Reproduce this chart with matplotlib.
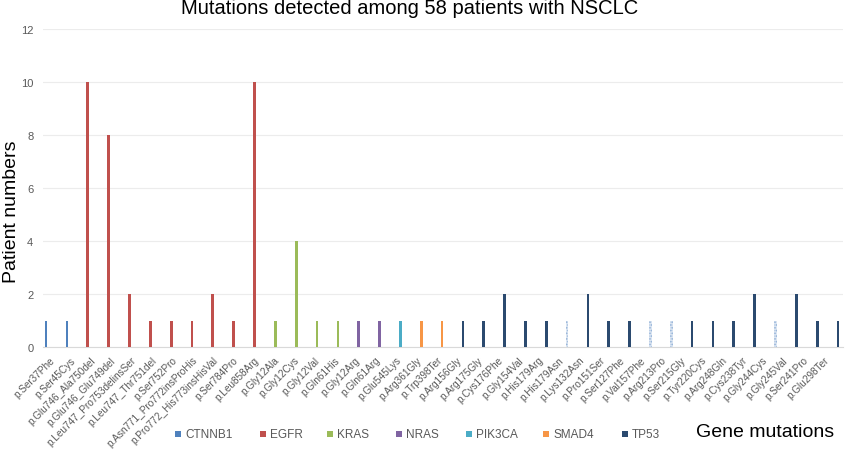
import matplotlib
matplotlib.use("Agg")
import matplotlib.pyplot as plt
from matplotlib.patches import Rectangle
from matplotlib.transforms import ScaledTranslation

plt.rcParams['font.family'] = ['Liberation Sans', 'DejaVu Sans']
plt.rcParams['hatch.linewidth'] = 0.8

mutations = ["p.Ser37Phe", "p.Ser45Cys", "p.Glu746_Ala750del", "p.Glu746_Glu749del",
             "p.Leu747_Pro753delinsSer", "p.Leu747_Thr751del", "p.Ser752Pro",
             "p.Asn771_Pro772insProHis", "p.Pro772_His773insHisVal", "p.Ser784Pro",
             "p.Leu858Arg", "p.Gly12Ala", "p.Gly12Cys", "p.Gly12Val", "p.Gln61His",
             "p.Gly12Arg", "p.Gln61Arg", "p.Glu545Lys", "p.Arg361Gly", "p.Trp398Ter",
             "p.Arg156Gly", "p.Arg175Gly", "p.Cys176Phe", "p.Gly154Val", "p.His179Arg",
             "p.His179Asn", "p.Lys132Asn", "p.Pro151Ser", "p.Ser127Phe", "p.Val157Phe",
             "p.Arg213Pro", "p.Ser215Gly", "p.Tyr220Cys", "p.Arg248Gln", "p.Cys238Tyr",
             "p.Gly244Cys", "p.Gly245Val", "p.Ser241Pro", "p.Glu298Ter"]
patients = [1, 1, 10, 8, 2, 1, 1, 1, 2, 1, 10, 1, 4, 1, 1, 1, 1, 1, 1, 1,
            1, 1, 2, 1, 1, 1, 2, 1, 1, 1, 1, 1, 1, 1, 2, 1, 2, 1, 1]
genes = ["CTNNB1"] * 2 + ["EGFR"] * 9 + ["KRAS"] * 4 + ["NRAS"] * 2 + ["PIK3CA"] + \
        ["SMAD4"] * 2 + ["TP53"] * 19
patterned = ["p.His179Asn", "p.Val157Phe", "p.Arg213Pro", "p.Gly244Cys"]

gene_order = ["CTNNB1", "EGFR", "KRAS", "NRAS", "PIK3CA", "SMAD4", "TP53"]
gene_colors = {"CTNNB1": "#4f81bd", "EGFR": "#c0504d", "KRAS": "#9bbb59",
               "NRAS": "#8064a2", "PIK3CA": "#4bacc6", "SMAD4": "#f79646",
               "TP53": "#2b4a6f"}

W, H = 846, 452
fig = plt.figure(figsize=(W / 100, H / 100), dpi=100)
ax = fig.add_axes([43 / W, 1 - 348 / H, 800 / W, 318 / H])

x = list(range(len(mutations)))
for xi, m, v, g in zip(x, mutations, patients, genes):
    if m in patterned:
        ax.bar(xi, v, width=0.13, facecolor="#dce6f2", edgecolor="#8eaed6",
               hatch="......", linewidth=0, zorder=3)
    else:
        ax.bar(xi, v, width=0.13, color=gene_colors[g], zorder=3)

ax.set_ylim(0, 12)
ax.set_yticks(range(0, 13, 2))
ax.set_xlim(-0.15, 38.24)
ax.yaxis.grid(True, color="#ececec", linewidth=0.8, zorder=0)
ax.set_axisbelow(True)
for s in ax.spines.values():
    s.set_visible(False)
ax.spines['bottom'].set_visible(True)
ax.spines['bottom'].set_color("#d9d9d9")
ax.tick_params(axis='y', length=0, labelsize=8, labelcolor="#595959", pad=7)
ax.tick_params(axis='x', length=0, labelsize=7.2, labelcolor="#595959", pad=8)
ax.set_xticks(x)
ax.set_xticklabels(mutations, rotation=45, ha="right", va="center",
                   rotation_mode="anchor")
n = len(mutations)
for i, lbl in enumerate(ax.get_xticklabels()):
    dx_px = 7 - 18 * i / (n - 1)
    lbl.set_transform(lbl.get_transform() +
                      ScaledTranslation(dx_px / 100, 0, fig.dpi_scale_trans))

fig.text(12 / W, 1 - 212 / H, "Patient numbers", rotation=90, va="center",
         ha="center", fontsize=14, color="#000000")
fig.text(410 / W, 1 - 9 / H, "Mutations detected among 58 patients with NSCLC",
         ha="center", va="center", fontsize=14.5, color="#000000")

# legend drawn item by item
marker_x = [175, 260, 327, 396, 466, 543, 622]
ly = 435
for g, mx in zip(gene_order, marker_x):
    fig.patches.append(Rectangle((mx / W, 1 - (ly + 3) / H), 6 / W, 6 / H,
                                 transform=fig.transFigure, facecolor=gene_colors[g],
                                 edgecolor="none"))
    fig.text((mx + 10) / W, 1 - ly / H, g, ha="left", va="center", fontsize=8.5,
             color="#595959")
fig.text(696 / W, 1 - 433 / H, "Gene mutations", ha="left", va="center",
         fontsize=14, color="#000000")

fig.savefig("out.png", dpi=100)
